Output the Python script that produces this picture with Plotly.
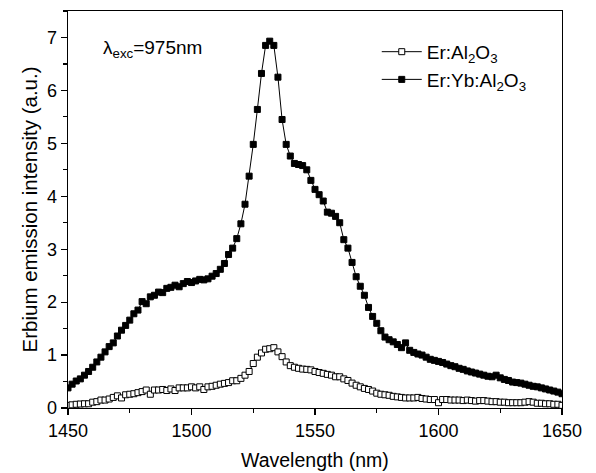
import plotly.graph_objects as go

# Wavelength grid (nm), 121 samples from 1450 to 1650
wavelength = [round(1450 + i * 5 / 3, 2) for i in range(121)]

er_yb = [
    0.38, 0.45, 0.51, 0.55, 0.62, 0.69, 0.77, 0.87, 0.96, 1.06,
    1.16, 1.23, 1.36, 1.47, 1.56, 1.66, 1.78, 1.85, 2.01, 1.97,
    2.10, 2.13, 2.19, 2.18, 2.26, 2.28, 2.32, 2.29, 2.35, 2.39,
    2.37, 2.40, 2.43, 2.42, 2.44, 2.49, 2.54, 2.62, 2.73, 2.90,
    3.02, 3.20, 3.48, 3.85, 4.38, 4.98, 5.64, 6.32, 6.85, 6.93,
    6.85, 6.25, 5.45, 4.98, 4.76, 4.62, 4.60, 4.58, 4.50, 4.30,
    4.13, 4.03, 3.91, 3.70, 3.68, 3.62, 3.50, 3.18, 3.02, 2.75,
    2.48, 2.30, 2.13, 1.90, 1.73, 1.60, 1.46, 1.34, 1.29, 1.25,
    1.20, 1.14, 1.23, 1.09, 1.05, 1.02, 1.00, 0.96, 0.92, 0.90,
    0.88, 0.86, 0.83, 0.80, 0.78, 0.75, 0.73, 0.70, 0.68, 0.66,
    0.64, 0.62, 0.60, 0.59, 0.62, 0.57, 0.54, 0.52, 0.49, 0.48,
    0.47, 0.45, 0.43, 0.41, 0.40, 0.38, 0.36, 0.34, 0.32, 0.30,
    0.27,
]

er_al = [
    0.05, 0.06, 0.07, 0.075, 0.08, 0.08, 0.11, 0.12, 0.15, 0.15,
    0.17, 0.20, 0.23, 0.19, 0.25, 0.26, 0.27, 0.29, 0.31, 0.34,
    0.26, 0.34, 0.34, 0.35, 0.33, 0.36, 0.33, 0.38, 0.38, 0.38,
    0.40, 0.38, 0.40, 0.35, 0.40, 0.41, 0.43, 0.45, 0.465, 0.48,
    0.515, 0.515, 0.56, 0.62, 0.69, 0.84, 0.96, 1.04, 1.11, 1.12,
    1.14, 1.06, 0.97, 0.87, 0.80, 0.77, 0.75, 0.735, 0.73, 0.72,
    0.69, 0.67, 0.655, 0.635, 0.62, 0.59, 0.59, 0.55, 0.52, 0.47,
    0.43, 0.40, 0.37, 0.35, 0.32, 0.28, 0.26, 0.25, 0.24, 0.22,
    0.21, 0.20, 0.19, 0.19, 0.19, 0.20, 0.18, 0.17, 0.16, 0.16,
    0.10, 0.16, 0.16, 0.15, 0.15, 0.15, 0.14, 0.15, 0.14, 0.13,
    0.14, 0.14, 0.13, 0.12, 0.12, 0.11, 0.11, 0.10, 0.10, 0.10,
    0.10, 0.11, 0.12, 0.11, 0.09, 0.09, 0.08, 0.08, 0.07, 0.07,
    0.05,
]

x_ticks = [1450, 1500, 1550, 1600, 1650]
y_ticks = [0, 1, 2, 3, 4, 5, 6, 7]

FONT = "Liberation Sans, Arial, Helvetica, sans-serif"

fig = go.Figure()
fig.add_trace(go.Scatter(
    x=wavelength, y=er_al, mode="lines+markers",
    name="Er:Al<sub>2</sub>O<sub>3</sub>",
    line=dict(color="black", width=1),
    marker=dict(symbol="square", size=6, color="white",
                line=dict(color="black", width=1)),
))
fig.add_trace(go.Scatter(
    x=wavelength, y=er_yb, mode="lines+markers",
    name="Er:Yb:Al<sub>2</sub>O<sub>3</sub>",
    line=dict(color="black", width=1),
    marker=dict(symbol="square", size=6, color="black",
                line=dict(color="black", width=1)),
))

axis_common = dict(
    showline=True, linecolor="black", linewidth=1.3, mirror=True,
    showgrid=False, zeroline=False,
    ticks="outside", ticklen=6, tickwidth=1.2, tickcolor="black",
    tickfont=dict(family=FONT, size=18, color="black"),
)

fig.update_xaxes(
    range=[1450, 1650], tickvals=x_ticks,
    minor=dict(dtick=25, ticks="outside", ticklen=4, tickwidth=1.2, tickcolor="black", showgrid=False),
    **axis_common,
)
fig.update_yaxes(
    range=[0, 7.5], tickvals=y_ticks,
    minor=dict(dtick=0.5, ticks="outside", ticklen=4, tickwidth=1.2, tickcolor="black", showgrid=False),
    **axis_common,
)

# Axis titles placed as annotations for precise positioning
fig.add_annotation(
    xref="paper", yref="paper", x=0.5, y=-0.132,
    xanchor="center", yanchor="middle", showarrow=False,
    text="Wavelength (nm)",
    font=dict(family=FONT, size=19.5, color="black"),
)
fig.add_annotation(
    xref="paper", yref="paper", x=-0.077, y=0.5,
    xanchor="center", yanchor="middle", showarrow=False, textangle=-90,
    text="Erbium emission intensity (a.u.)",
    font=dict(family=FONT, size=20.5, color="black"),
)

fig.add_annotation(
    xref="paper", yref="paper", x=0.066, y=0.905,
    xanchor="left", yanchor="middle", showarrow=False,
    text="λ<sub>exc</sub>=975nm",
    font=dict(family=FONT, size=19, color="black"),
)

fig.update_layout(
    width=596, height=473,
    margin=dict(l=68, r=34, t=11, b=65),
    paper_bgcolor="white", plot_bgcolor="white",
    font=dict(family=FONT, size=19, color="black"),
    legend=dict(
        x=0.625, y=0.945, xanchor="left", yanchor="top",
        bgcolor="rgba(0,0,0,0)", borderwidth=0,
        font=dict(family=FONT, size=19, color="black"),
        itemwidth=40, tracegroupgap=0,
    ),
    showlegend=True,
)

fig.write_html(
    "out.html",
    config={"displayModeBar": False, "staticPlot": True},
    post_script="document.body.style.margin='0px';",
)
